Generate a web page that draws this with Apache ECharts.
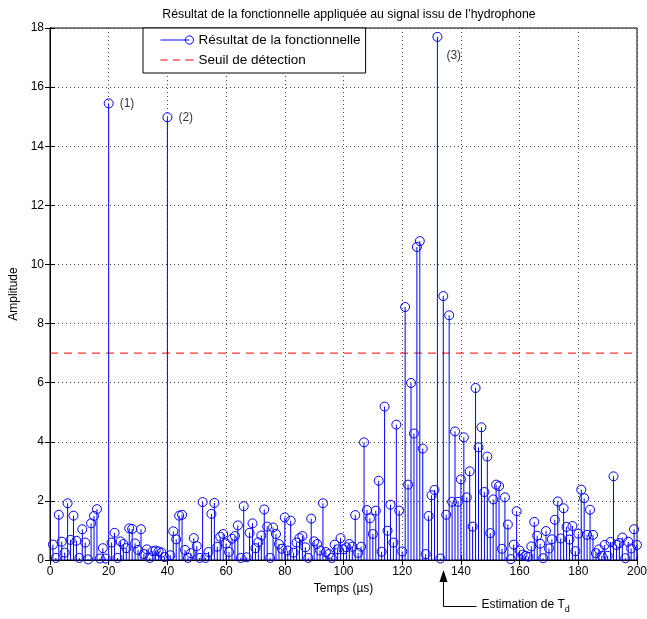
<!DOCTYPE html>
<html><head><meta charset="utf-8">
<script src="https://cdn.jsdelivr.net/npm/echarts@6/dist/echarts.min.js"></script>
<style>html,body{margin:0;padding:0;background:#fff}#c{width:647px;height:619px}</style>
</head><body><div id="c"></div>
<script>
// Sample times (µs) 1..200, one value per sample
const amplitudes = [
 0.52,0.07,1.53,0.62,0.25,1.92,0.68,1.50,0.65,0.07,
 1.04,0.59,0.02,1.24,1.49,1.72,0.05,0.40,0.05,15.45,
 0.59,0.92,0.07,0.63,0.54,0.40,1.07,1.05,0.56,0.34,
 1.04,0.20,0.36,0.07,0.30,0.32,0.29,0.25,0.10,14.98,
 0.16,0.97,0.70,1.50,1.53,0.34,0.07,0.23,0.74,0.47,
 0.07,1.96,0.07,0.27,1.56,1.93,0.45,0.79,0.88,0.56,
 0.27,0.72,0.81,1.17,0.07,1.82,0.09,0.92,1.24,0.40,
 0.60,0.83,1.71,1.13,0.07,1.10,0.88,0.54,0.38,1.44,
 0.32,1.33,0.25,0.59,0.74,0.81,0.43,0.07,1.40,0.63,
 0.54,0.32,1.92,0.27,0.20,0.07,0.52,0.36,0.74,0.36,
 0.43,0.54,0.45,1.52,0.24,0.45,3.98,1.69,1.41,0.88,
 1.67,2.68,0.28,5.19,0.99,1.87,0.59,4.58,1.67,0.29,
 8.56,2.55,5.99,4.28,10.59,10.79,3.77,0.20,1.49,2.19,
 2.37,17.70,0.05,8.93,1.53,8.28,1.97,4.35,1.97,2.73,
 4.15,2.12,3.00,1.13,5.82,3.81,4.49,2.30,3.50,0.91,
 2.05,2.55,2.50,0.38,2.12,1.20,0.03,0.52,1.65,0.32,
 0.18,0.14,0.11,0.46,1.29,0.82,0.55,0.06,0.98,0.39,
 0.70,1.36,1.98,0.73,1.75,1.12,0.69,1.15,0.30,0.89,
 2.38,2.09,0.85,1.70,0.85,0.23,0.36,0.14,0.51,0.14,
 0.61,2.83,0.51,0.57,0.76,0.06,0.62,0.39,1.04,0.51
];
const firstTime = 1;
const threshold = 7;
const xTicks = [0,20,40,60,80,100,120,140,160,180,200];
const yTicks = [0,2,4,6,8,10,12,14,16,18];
const peakLabels = [[20,'(1)'],[40,'(2)'],[132,'(3)']];
const tdEstimate = 134;

const stemData = amplitudes.map((v,i)=>[firstTime+i, v]);
const annData = peakLabels.map(p=>({value:[p[0], amplitudes[p[0]-firstTime]], name:p[1],
  label:{offset: p[0]===132 ? [4,19] : [6,0]}}));

const FONT = 'Liberation Sans, Arial, sans-serif';
const chart = echarts.init(document.getElementById('c'));
const gridCol = '#444';
const baseAxis = {
  axisLine:{show:true,lineStyle:{color:'#000',width:1}},
  axisTick:{show:true,inside:true,length:5,lineStyle:{color:'#000'}},
  axisLabel:{color:'#000',fontFamily:FONT,fontSize:12},
};
chart.setOption({
  animation:false,
  title:{text:'Résultat de la fonctionnelle appliquée au signal issu de l\u2019hydrophone',
    left:344, top:4, textAlign:'center',
    textStyle:{fontFamily:FONT,fontSize:12.3,fontWeight:'normal',color:'#000'}},
  grid:{left:50,right:10,top:28,bottom:59,show:true,borderColor:'#000',borderWidth:1,
    backgroundColor:'#fff', outerBoundsMode:'none', containLabel:false},
  legend:{
    left:143, top:28, orient:'vertical', padding:[5,5,6,15], itemGap:6,
    itemWidth:33, itemHeight:14,
    backgroundColor:'#fff', borderColor:'#000', borderWidth:1,
    textStyle:{fontFamily:FONT,fontSize:13.5,color:'#000'},
    data:[
      {name:'Résultat de la fonctionnelle',
       icon:'path://M0,7L28,7M28,7m-4,0a4,4 0 1,0 8,0a4,4 0 1,0 -8,0',
       itemStyle:{color:'none',borderColor:'#0000ff',borderWidth:1}},
      {name:'Seuil de détection',
       icon:'path://M0,7L7,7M12,7L19,7M24,7L32,7M0,3M0,11',
       itemStyle:{color:'none',borderColor:'#ff0000',borderWidth:1}}
    ]
  },
  xAxis:[
    Object.assign({}, baseAxis, {type:'value',min:0,max:200,interval:20,
      name:'Temps (µs)', nameLocation:'middle', nameGap:17,
      nameTextStyle:{fontFamily:FONT,fontSize:12,color:'#000'},
      axisLabel:Object.assign({}, baseAxis.axisLabel,{margin:6, formatter:v=>xTicks.includes(v)?String(v):''}),
      splitLine:{show:true,lineStyle:{color:gridCol,type:[1,3],width:1}}}),
    Object.assign({}, baseAxis, {type:'value',min:0,max:200,interval:20,position:'top',
      axisLabel:{show:false},splitLine:{show:false}})
  ],
  yAxis:[
    Object.assign({}, baseAxis, {type:'value',min:0,max:18,interval:2,
      name:'Amplitude', nameLocation:'middle', nameGap:25,
      nameTextStyle:{fontFamily:FONT,fontSize:12,color:'#000'},
      axisLabel:Object.assign({}, baseAxis.axisLabel,{margin:6, formatter:v=>yTicks.includes(v)?String(v):''}),
      splitLine:{show:true,lineStyle:{color:gridCol,type:[1,3],width:1}}}),
    Object.assign({}, baseAxis, {type:'value',min:0,max:18,interval:2,position:'right',
      axisLabel:{show:false},splitLine:{show:false}})
  ],
  series:[
    {name:'Seuil de détection', type:'line', data:[[0,threshold],[200,threshold]],
     symbol:'none', silent:true, z:1,
     lineStyle:{color:'#ff0000',width:1,type:[8,6]}, itemStyle:{color:'#ff0000'}},
    {name:'Résultat de la fonctionnelle', type:'custom', data:stemData, z:3,
     itemStyle:{color:'#0000ff'},
     renderItem:(params, api)=>{
       const x = api.value(0), y = api.value(1);
       const p0 = api.coord([x,0]), p1 = api.coord([x,y]);
       return {type:'group', children:[
         {type:'line', shape:{x1:p0[0],y1:p0[1],x2:p1[0],y2:p1[1]},
          style:{stroke:'#0000ff',lineWidth:1}},
         {type:'circle', shape:{cx:p1[0],cy:p1[1],r:4.5},
          style:{fill:'none',stroke:'#0000ff',lineWidth:1}}
       ]};
     }},
    {name:'annotations', type:'scatter', data:annData, symbolSize:0, silent:true, z:4,
     label:{show:true, position:'right', formatter:p=>p.name,
       fontFamily:FONT, fontSize:12, color:'#000'}}
  ]
});

// Arrow pointing to the estimated T_d below the time axis
const pt = chart.convertToPixel({xAxisIndex:0,yAxisIndex:0},[tdEstimate,0]);
const ax = Math.round(pt[0])+0.5, ay = pt[1];
chart.setOption({graphic:[
  {type:'polyline', shape:{points:[[ax,ay+14],[ax,ay+46.5],[ax+33,ay+46.5]]},
   style:{stroke:'#000',lineWidth:1,fill:null}},
  {type:'polygon', shape:{points:[[ax,ay+10],[ax-4,ay+22],[ax+4,ay+22]]},
   style:{fill:'#000'}},
  {type:'text', x:ax+38, y:ay+45,
   style:{text:'{a|Estimation de T}{b|d}', verticalAlign:'middle',
     rich:{a:{fontFamily:FONT,fontSize:12,color:'#000'},
           b:{fontFamily:FONT,fontSize:9,color:'#000',padding:[9,0,0,0]}}}}
]});
</script>
</body></html>
